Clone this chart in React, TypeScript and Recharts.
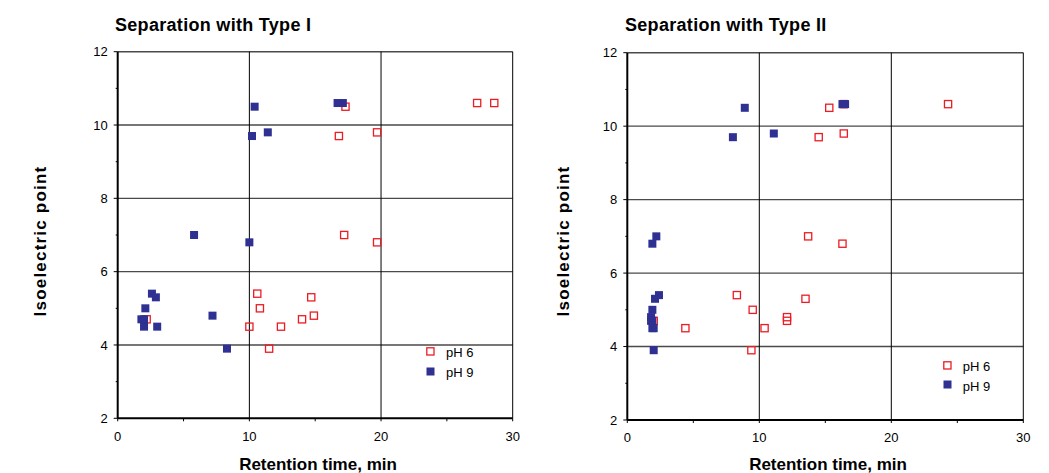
import React from 'react';
import { ScatterChart, Scatter, XAxis, YAxis, CartesianGrid, Legend } from 'recharts';

// ---- data ----
const retentionTicks = [0, 5, 10, 15, 20, 25, 30];
const retentionLabelled = [0, 10, 20, 30];
const pITicks = [2, 3, 4, 5, 6, 7, 8, 9, 10, 11, 12];
const pILabelled = [2, 4, 6, 8, 10, 12];
const pIGridValues = [4, 6, 8, 10, 12];
const retentionGridValues = [10, 20, 30];

// Type I, pH 6
const typeIpH6Time = [17.3, 27.3, 28.6, 16.8, 19.7, 17.2, 19.7, 10.6, 10.8, 10.0, 11.5, 12.4, 14.0, 14.7, 14.9, 2.2];
const typeIpH6pI = [10.5, 10.6, 10.6, 9.7, 9.8, 7.0, 6.8, 5.4, 5.0, 4.5, 3.9, 4.5, 4.7, 5.3, 4.8, 4.7];
// Type I, pH 9
const typeIpH9Time = [10.4, 16.7, 17.1, 10.2, 11.4, 5.8, 10.0, 2.6, 2.9, 2.1, 1.8, 2.0, 2.0, 3.0, 7.2, 8.3];
const typeIpH9pI = [10.5, 10.6, 10.6, 9.7, 9.8, 7.0, 6.8, 5.4, 5.3, 5.0, 4.7, 4.7, 4.5, 4.5, 4.8, 3.9];
// Type II, pH 6
const typeIIpH6Time = [15.3, 24.3, 16.4, 14.5, 16.4, 13.7, 16.3, 8.3, 9.5, 4.4, 10.4, 9.4, 12.1, 12.1, 13.5, 2.0];
const typeIIpH6pI = [10.5, 10.6, 10.6, 9.7, 9.8, 7.0, 6.8, 5.4, 5.0, 4.5, 4.5, 3.9, 4.8, 4.7, 5.3, 4.7];
// Type II, pH 9
const typeIIpH9Time = [8.9, 16.3, 16.5, 8.0, 11.1, 2.2, 1.9, 2.4, 2.1, 1.9, 1.8, 1.9, 1.9, 2.0, 1.8, 2.0];
const typeIIpH9pI = [10.5, 10.6, 10.6, 9.7, 9.8, 7.0, 6.8, 5.4, 5.3, 5.0, 4.7, 4.7, 4.5, 4.5, 4.8, 3.9];

const seriesNames = ['pH 6', 'pH 9'];
const titles = ['Separation with Type I', 'Separation with Type II'];
const xLabel = 'Retention time, min';
const yLabel = 'Isoelectric point';

const zip = (xs: number[], ys: number[]) => xs.map((x, i) => ({ x, y: ys[i] }));

// ---- styles ----
const RED = '#ec1c24';
const BLUE = '#2e3192';
const FONT = '"Liberation Sans", Arial, Helvetica, sans-serif';
const TICK_SIZE = 4;
const Y_TICK_MARGIN = 6;
const X_TICK_MARGIN = 9;

const OpenSquare = (p: any) => (
  <rect x={p.cx - 3.6} y={p.cy - 3.6} width={7.2} height={7.2} fill="none" stroke={RED} strokeWidth={1.3} />
);
const FilledSquare = (p: any) => (
  <rect x={p.cx - 4} y={p.cy - 4} width={8} height={8} fill={BLUE} />
);

const YTick = (props: any) => {
  const { x, y, payload } = props;
  const v = payload.value;
  const major = pILabelled.includes(v);
  const axisX = x + TICK_SIZE + Y_TICK_MARGIN;
  return (
    <g>
      <line x1={axisX - (major ? TICK_SIZE : 2)} x2={axisX} y1={y} y2={y} stroke="#000" strokeWidth={1} />
      {major && (
        <text x={x} y={y} dy="0.36em" textAnchor="end" fontSize={13} fontFamily={FONT} fill="#000">
          {v}
        </text>
      )}
    </g>
  );
};

const XTick = (props: any) => {
  const { x, y, payload } = props;
  const v = payload.value;
  const major = retentionLabelled.includes(v);
  const axisY = y - TICK_SIZE - X_TICK_MARGIN;
  return (
    <g>
      <line x1={x} x2={x} y1={axisY} y2={axisY + 3} stroke="#000" strokeWidth={1} />
      {major && (
        <text x={x} y={y} dy="0.71em" textAnchor="middle" fontSize={13} fontFamily={FONT} fill="#000">
          {v}
        </text>
      )}
    </g>
  );
};

const makeLegend = (rowH: number) => (props: any) => {
  const { payload } = props;
  return (
    <div style={{ fontFamily: FONT, fontSize: 13, color: '#000' }}>
      {(payload || []).map((entry: any, i: number) => (
        <div key={i} style={{ position: 'relative', height: rowH }}>
          <svg width={9} height={9} style={{ position: 'absolute', left: 0, top: rowH / 2 - 4.5 }}>
            {entry.value === seriesNames[0] ? (
              <rect x={0.8} y={0.8} width={7.2} height={7.2} fill="none" stroke={RED} strokeWidth={1.3} />
            ) : (
              <rect x={0.5} y={0.5} width={8} height={8} fill={BLUE} />
            )}
          </svg>
          <span style={{ position: 'absolute', left: 20, top: rowH / 2 - 6, lineHeight: '15px', whiteSpace: 'nowrap' }}>
            {entry.value}
          </span>
        </div>
      ))}
    </div>
  );
};

type PanelProps = {
  width: number;
  margin: { top: number; right: number; bottom: number; left: number };
  pH6: { x: number; y: number }[];
  pH9: { x: number; y: number }[];
  legendPos: { left: number; top: number };
  rowH: number;
};

const Panel = ({ width, margin, pH6, pH9, legendPos, rowH }: PanelProps) => (
  <ScatterChart width={width} height={473} margin={margin}>
    <CartesianGrid vertical={false} horizontalValues={pIGridValues} stroke="#4a4a4a" strokeWidth={1.4} />
    <CartesianGrid horizontal={false} verticalValues={retentionGridValues} stroke="#000" strokeWidth={1} />
    <XAxis
      type="number"
      dataKey="x"
      domain={[0, 30]}
      ticks={retentionTicks}
      interval={0}
      height={30}
      tickSize={TICK_SIZE}
      tickMargin={X_TICK_MARGIN}
      tickLine={false}
      tick={<XTick />}
      axisLine={{ stroke: '#000', strokeWidth: 2 }}
      allowDataOverflow
    />
    <YAxis
      type="number"
      dataKey="y"
      domain={[2, 12]}
      ticks={pITicks}
      interval={0}
      width={40}
      tickSize={TICK_SIZE}
      tickMargin={Y_TICK_MARGIN}
      tickLine={false}
      tick={<YTick />}
      axisLine={{ stroke: '#000', strokeWidth: 2 }}
      allowDataOverflow
    />
    <Legend
      layout="vertical"
      align="center"
      verticalAlign="middle"
      content={makeLegend(rowH)}
      wrapperStyle={{ position: 'absolute', left: legendPos.left, top: legendPos.top, width: 70 }}
    />
    <Scatter name={seriesNames[0]} data={pH6} shape={OpenSquare} isAnimationActive={false} />
    <Scatter name={seriesNames[1]} data={pH9} shape={FilledSquare} isAnimationActive={false} />
  </ScatterChart>
);

export default function App() {
  return (
    <div style={{ position: 'absolute', left: 0, top: 0, width: 1049, height: 473, background: '#fff', overflow: 'hidden' }}>
      <div style={{ position: 'absolute', left: 0, top: 0 }}>
        <Panel
          width={525}
          margin={{ top: 51.7, right: 12.3, bottom: 24.7, left: 77.7 }}
          pH6={zip(typeIpH6Time, typeIpH6pI)}
          pH9={zip(typeIpH9Time, typeIpH9pI)}
          legendPos={{ left: 426, top: 341 }}
          rowH={20}
        />
      </div>
      <div style={{ position: 'absolute', left: 525, top: 0 }}>
        <Panel
          width={524}
          margin={{ top: 52.7, right: 25.7, bottom: 23, left: 62.3 }}
          pH6={zip(typeIIpH6Time, typeIIpH6pI)}
          pH9={zip(typeIIpH9Time, typeIIpH9pI)}
          legendPos={{ left: 417.7, top: 355.5 }}
          rowH={19.5}
        />
      </div>
      <svg width={1049} height={473} style={{ position: 'absolute', left: 0, top: 0, pointerEvents: 'none' }}>
        <g fontFamily={FONT} fontWeight="bold" fill="#000">
          <text x={115} y={31} fontSize={18} letterSpacing={0.3}>{titles[0]}</text>
          <text x={625} y={31} fontSize={18} letterSpacing={0.3}>{titles[1]}</text>
          <text x={318} y={470} fontSize={17} textAnchor="middle">{xLabel}</text>
          <text x={828} y={470} fontSize={17} textAnchor="middle">{xLabel}</text>
          <text transform="translate(46,241) rotate(-90)" fontSize={17} textAnchor="middle" letterSpacing={1.2}>{yLabel}</text>
          <text transform="translate(569,241) rotate(-90)" fontSize={17} textAnchor="middle" letterSpacing={1.2}>{yLabel}</text>
        </g>
      </svg>
    </div>
  );
}
